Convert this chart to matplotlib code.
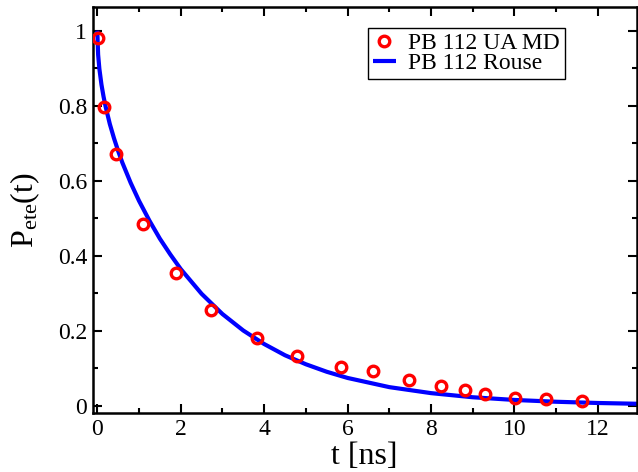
import matplotlib
matplotlib.use("Agg")
import matplotlib.pyplot as plt
from matplotlib.ticker import MultipleLocator, FuncFormatter

plt.rcParams['font.family'] = ['Liberation Serif', 'DejaVu Serif']
plt.rcParams['mathtext.fontset'] = 'custom'
plt.rcParams['mathtext.rm'] = 'Liberation Serif'
plt.rcParams['mathtext.it'] = 'Liberation Serif:italic'

# MD end-to-end vector autocorrelation, PB 112 united-atom
t_md = [0.01, 0.16, 0.44, 1.10, 1.88, 2.73, 3.83, 4.79, 5.83, 6.61,
        7.46, 8.24, 8.82, 9.30, 10.02, 10.76, 11.61]
p_md = [0.979, 0.795, 0.671, 0.483, 0.354, 0.255, 0.181, 0.133, 0.103, 0.091,
        0.068, 0.052, 0.041, 0.030, 0.021, 0.017, 0.012]

# Rouse model prediction
t_rouse = [0.0, 0.02, 0.05, 0.1, 0.15, 0.2, 0.3, 0.4, 0.5, 0.6, 0.8, 1.0,
           1.25, 1.5, 1.75, 2.0, 2.5, 3.0, 3.5, 4.0, 4.5, 5.0, 5.5, 6.0,
           7.0, 8.0, 9.0, 10.0, 11.0, 12.0, 13.0]
p_rouse = [1.0, 0.936, 0.898, 0.856, 0.824, 0.797, 0.751, 0.713, 0.679, 0.648,
           0.594, 0.546, 0.493, 0.445, 0.403, 0.364, 0.298, 0.244, 0.200, 0.164,
           0.134, 0.110, 0.090, 0.0735, 0.049, 0.033, 0.022, 0.0148, 0.0100,
           0.0067, 0.0045]

labels = ["PB 112 UA MD", "PB 112 Rouse"]

fig = plt.figure(figsize=(6.38, 4.72), dpi=100)
ax = fig.add_axes([92.7 / 638, 59 / 472, 544 / 638, 406 / 472])

ax.plot(t_md, p_md, linestyle='none', marker='o', markersize=7.6,
        markerfacecolor='none', markeredgecolor='#ff0000', markeredgewidth=2.4,
        label=labels[0], zorder=3)
ax.plot(t_rouse, p_rouse, color='#0000ff', linewidth=3.0, label=labels[1],
        zorder=2, solid_capstyle='butt')

ax.set_xlim(-0.11, 12.93)
ax.set_ylim(-0.02, 1.063)

ax.xaxis.set_major_locator(MultipleLocator(2))
ax.xaxis.set_minor_locator(MultipleLocator(1))
ax.yaxis.set_major_locator(MultipleLocator(0.2))
ax.yaxis.set_minor_locator(MultipleLocator(0.1))
ax.xaxis.set_major_formatter(FuncFormatter(lambda v, p: f"{v:g}"))
ax.yaxis.set_major_formatter(FuncFormatter(lambda v, p: f"{round(v, 1):g}"))

ax.tick_params(which='both', direction='in', top=True, right=True,
               width=1.5, labelsize=17, color='black')
ax.tick_params(which='major', length=6.5, pad=4)
ax.tick_params(which='minor', length=3.6)
for s in ax.spines.values():
    s.set_linewidth(1.8)

ax.set_xlabel("t [ns]", fontsize=23, labelpad=2)
ax.set_ylabel(r"$\mathrm{P_{ete}(t)}$", fontsize=23, labelpad=11)

leg = ax.legend(loc='upper left', bbox_to_anchor=(0.506, 0.948),
                borderaxespad=0, fontsize=17, frameon=True, fancybox=False,
                edgecolor='black', framealpha=1, borderpad=0.2,
                labelspacing=-0.08, handlelength=1.0, handletextpad=0.5,
                numpoints=1)
leg.get_frame().set_linewidth(1.0)

fig.savefig("out.png", dpi=100)
